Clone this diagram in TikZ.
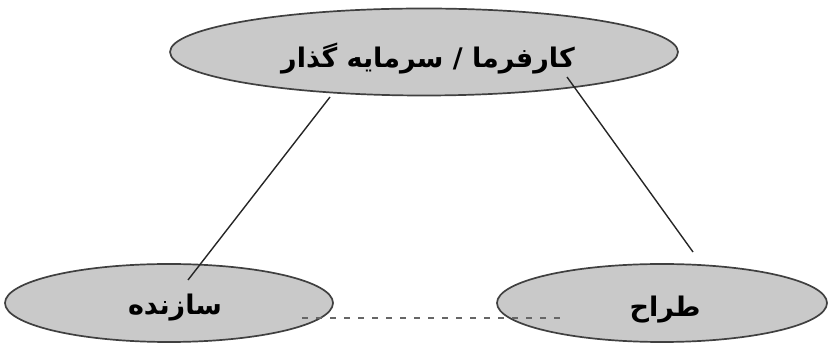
\documentclass[tikz,border=0pt]{standalone}
\usepackage{fontspec}
\newfontfamily\arabicfont[Script=Arabic]{DejaVu Sans}
\TeXXeTstate=1
\usetikzlibrary{shapes.geometric}
\begin{document}
\begin{tikzpicture}[x=1pt,y=1pt,
 role/.style={ellipse, draw=black!75, line width=1.7pt, fill=black!21, inner sep=0pt},
 rolelabel/.style={inner sep=0pt, font=\arabicfont\bfseries\fontsize{27}{30}\selectfont},
 link/.style={draw=black!85, line width=1.4pt},
 peer/.style={draw=black!60, line width=2pt, dash pattern=on 6pt off 8pt}]
\useasboundingbox (0,0) rectangle (832,350);
\node[role, minimum width=508pt, minimum height=87pt] (client) at (424,298) {};
\node[role, minimum width=328pt, minimum height=78pt] (builder) at (169,47) {};
\node[role, minimum width=330pt, minimum height=78pt] (designer) at (662,47) {};
\node[rolelabel] (clientt) at (428,291) {\beginR کارفرما / سرمایه گذار\endR};
\node[rolelabel] (buildert) at (175,42) {\beginR سازنده\endR};
\node[rolelabel] (designert) at (665,40) {\beginR طراح\endR};
\coordinate (c1) at (330,253);
\coordinate (b1) at (188,70);
\coordinate (c2) at (567,273);
\coordinate (d1) at (693,98);
\coordinate (p1) at (302,32);
\coordinate (p2) at (565,32);
\draw[link] (c1) -- (b1);
\draw[link] (c2) -- (d1);
\draw[peer] (p1) -- (p2);
\end{tikzpicture}
\end{document}
